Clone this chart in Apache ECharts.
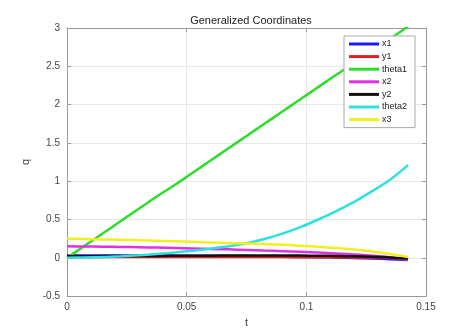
<!DOCTYPE html>
<html>
<head>
<meta charset="utf-8">
<script src="https://cdn.jsdelivr.net/npm/echarts@6/dist/echarts.min.js"></script>
<style>
  html, body { margin: 0; padding: 0; background: #fff; }
  #main { width: 461px; height: 333px; }
</style>
</head>
<body>
<div id="main"></div>
<script>
// time samples
var t = [0, 0.0075, 0.015, 0.0225, 0.03, 0.0375, 0.045, 0.0525, 0.06, 0.0675,
  0.075, 0.0825, 0.09, 0.0975, 0.105, 0.1125, 0.12, 0.1275, 0.135, 0.1425];

// generalized coordinates
var x1 = [0.03, 0.03, 0.03, 0.03, 0.03, 0.029, 0.028, 0.027, 0.026, 0.024,
  0.022, 0.019, 0.016, 0.012, 0.008, 0.003, -0.003, -0.01, -0.018, -0.028];
var y1 = [0.01, 0.01, 0.01, 0.01, 0.01, 0.01, 0.01, 0.01, 0.01, 0.01,
  0.01, 0.01, 0.009, 0.008, 0.007, 0.005, 0.003, 0.0, -0.004, -0.01];
var theta1 = [0, 0.16, 0.32, 0.48, 0.64, 0.80, 0.95, 1.11, 1.27, 1.43,
  1.59, 1.75, 1.91, 2.07, 2.23, 2.39, 2.54, 2.70, 2.86, 3.02];
var x2 = [0.15, 0.148, 0.145, 0.142, 0.138, 0.133, 0.128, 0.122, 0.116, 0.11,
  0.103, 0.095, 0.087, 0.078, 0.068, 0.056, 0.043, 0.028, 0.008, -0.025];
var y2 = [0.02, 0.021, 0.022, 0.023, 0.024, 0.025, 0.026, 0.027, 0.028, 0.029,
  0.03, 0.03, 0.03, 0.029, 0.027, 0.024, 0.019, 0.013, 0.005, -0.008];
var theta2 = [0, 0.005, 0.01, 0.02, 0.033, 0.05, 0.07, 0.093, 0.12, 0.15,
  0.19, 0.245, 0.315, 0.4, 0.5, 0.61, 0.73, 0.87, 1.02, 1.21];
var x3 = [0.25, 0.245, 0.24, 0.235, 0.228, 0.222, 0.215, 0.208, 0.2, 0.193,
  0.186, 0.178, 0.17, 0.157, 0.143, 0.127, 0.107, 0.082, 0.05, 0.01];

var seriesNames = ['x1', 'y1', 'theta1', 'x2', 'y2', 'theta2', 'x3'];
var seriesData = [x1, y1, theta1, x2, y2, theta2, x3];
var colors = ['#1a1aff', '#e02020', '#2edc2e', '#e030e0', '#111111', '#2ee0e0', '#f0f020'];

function pairs(arr) {
  return arr.map(function (v, i) { return [t[i], v]; });
}

var axisGray = '#9a9a9a';
var textGray = '#444';

var myChart = echarts.init(document.getElementById('main'));
myChart.setOption({
  animation: false,
  color: colors,
  title: {
    text: 'Generalized Coordinates',
    left: 246,
    top: 10,
    textAlign: 'center',
    textStyle: { fontSize: 11, fontWeight: 'normal', color: '#222', fontFamily: 'Liberation Sans' }
  },
  legend: {
    data: seriesNames,
    orient: 'vertical',
    left: 344,
    top: 36,
    icon: 'rect',
    itemWidth: 30,
    itemHeight: 3,
    itemGap: 2.6,
    padding: [3, 8, 3, 5],
    backgroundColor: '#fff',
    borderColor: '#aaa',
    borderWidth: 1,
    borderRadius: 0,
    textStyle: { fontSize: 9, color: '#222', lineHeight: 10, padding: [0, 0, 0, -2], fontFamily: 'Liberation Sans' }
  },
  grid: { left: 67, right: 35, top: 28, bottom: 33 },
  xAxis: [{
    type: 'value',
    min: 0,
    max: 0.15,
    interval: 0.05,
    name: 't',
    nameLocation: 'middle',
    nameGap: 19,
    nameTextStyle: { fontSize: 11, color: textGray, fontFamily: 'Liberation Sans' },
    axisLine: { show: true, onZero: false, lineStyle: { color: axisGray } },
    axisTick: { show: true, inside: true, length: 4, lineStyle: { color: axisGray } },
    axisLabel: { fontSize: 10, color: textGray, margin: 6, fontFamily: 'Liberation Sans' },
    splitLine: { show: true, lineStyle: { color: '#e8e8e8' } }
  }, {
    type: 'value',
    position: 'top',
    min: 0,
    max: 0.15,
    interval: 0.05,
    axisLine: { show: true, onZero: false, lineStyle: { color: axisGray } },
    axisTick: { show: true, inside: true, length: 4, lineStyle: { color: axisGray } },
    axisLabel: { show: false },
    splitLine: { show: false }
  }],
  yAxis: [{
    type: 'value',
    min: -0.5,
    max: 3,
    interval: 0.5,
    name: 'q',
    nameLocation: 'middle',
    nameGap: 30,
    nameRotate: 90,
    nameTextStyle: { fontSize: 11, color: textGray, fontFamily: 'Liberation Sans' },
    axisLine: { show: true, onZero: false, lineStyle: { color: axisGray } },
    axisTick: { show: true, inside: true, length: 4, lineStyle: { color: axisGray } },
    axisLabel: { fontSize: 10, color: textGray, margin: 7, fontFamily: 'Liberation Sans' },
    splitLine: { show: true, lineStyle: { color: '#e8e8e8' } }
  }, {
    type: 'value',
    position: 'right',
    min: -0.5,
    max: 3,
    interval: 0.5,
    axisLine: { show: true, onZero: false, lineStyle: { color: axisGray } },
    axisTick: { show: true, inside: true, length: 4, lineStyle: { color: axisGray } },
    axisLabel: { show: false },
    splitLine: { show: false }
  }],
  series: seriesNames.map(function (name, i) {
    return {
      name: name,
      type: 'line',
      data: pairs(seriesData[i]),
      showSymbol: false,
      smooth: 0.3,
      clip: true,
      lineStyle: { width: 2.5, color: colors[i] }
    };
  })
});
</script>
</body>
</html>
